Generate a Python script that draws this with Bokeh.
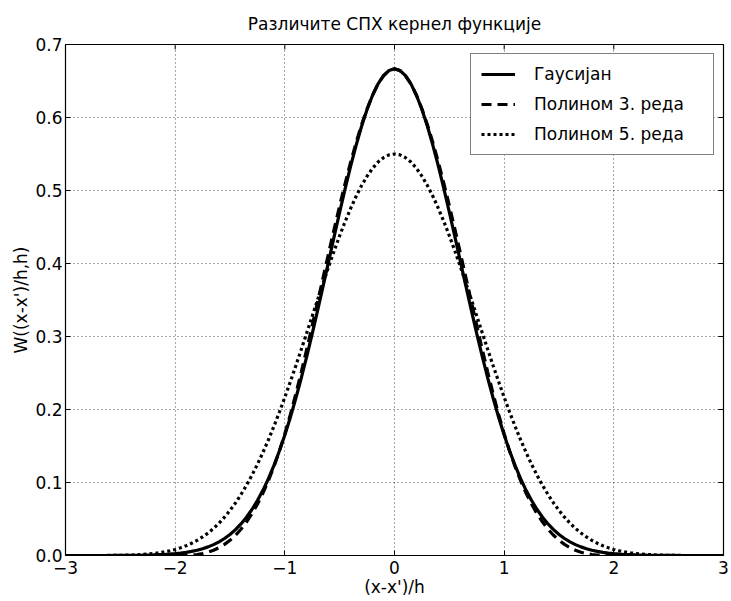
import math
from bokeh.plotting import figure
from bokeh.models import LinearAxis, Legend, LegendItem, FixedTicker
from bokeh.embed import file_html
from bokeh.resources import INLINE

# x from -3 to 3 in steps of 0.05
x = [round(-3 + 0.05 * i, 2) for i in range(121)]

# values for |x| = 0, 0.05, ..., 3.0 (curves are symmetric)
gauss_half = [0.6667, 0.6644, 0.6574, 0.6461, 0.6305, 0.6110, 0.5880, 0.5619, 0.5333, 0.5025,
              0.4702, 0.4371, 0.4033, 0.3696, 0.3364, 0.3040, 0.2728, 0.2432, 0.2152, 0.1891,
              0.1650, 0.1431, 0.1231, 0.1052, 0.0893, 0.0753, 0.0630, 0.0524, 0.0432, 0.0354,
              0.0288, 0.0233, 0.0187, 0.0149, 0.0118, 0.0093, 0.0072, 0.0056, 0.0043, 0.0033,
              0.0025, 0.0019, 0.0014, 0.0011, 0.0008, 0.0006, 0.0004, 0.0003, 0.0002, 0.0002,
              0.0001, 0.0001, 0.0, 0.0, 0.0, 0.0, 0.0, 0.0, 0.0, 0.0, 0.0]
cubic_half = [0.6667, 0.6642, 0.6572, 0.6459, 0.6307, 0.6120, 0.5902, 0.5656, 0.5387, 0.5097,
              0.4792, 0.4474, 0.4147, 0.3815, 0.3482, 0.3151, 0.2827, 0.2512, 0.2212, 0.1929,
              0.1667, 0.1429, 0.1215, 0.1024, 0.0853, 0.0703, 0.0572, 0.0458, 0.0360, 0.0277,
              0.0208, 0.0152, 0.0107, 0.0071, 0.0045, 0.0026, 0.0013, 0.0006, 0.0002, 0.0000,
              0.0, 0.0, 0.0, 0.0, 0.0, 0.0, 0.0, 0.0, 0.0, 0.0,
              0.0, 0.0, 0.0, 0.0, 0.0, 0.0, 0.0, 0.0, 0.0, 0.0, 0.0]
quintic_half = [0.5500, 0.5488, 0.5450, 0.5389, 0.5304, 0.5196, 0.5068, 0.4921, 0.4755, 0.4575,
                0.4380, 0.4174, 0.3959, 0.3737, 0.3510, 0.3281, 0.3051, 0.2823, 0.2598, 0.2379,
                0.2167, 0.1963, 0.1768, 0.1584, 0.1411, 0.1249, 0.1099, 0.0961, 0.0835, 0.0720,
                0.0617, 0.0525, 0.0443, 0.0371, 0.0308, 0.0254, 0.0207, 0.0168, 0.0134, 0.0106,
                0.0083, 0.0064, 0.0049, 0.0037, 0.0027, 0.0020, 0.0014, 0.0010, 0.0006, 0.0004,
                0.0003, 0.0002, 0.0001, 0.0, 0.0, 0.0, 0.0, 0.0, 0.0, 0.0, 0.0]

gauss = gauss_half[::-1] + gauss_half[1:]
cubic = cubic_half[::-1] + cubic_half[1:]
quintic = quintic_half[::-1] + quintic_half[1:]

x_ticks = [-3, -2, -1, 0, 1, 2, 3]
y_ticks = [0.0, 0.1, 0.2, 0.3, 0.4, 0.5, 0.6, 0.7]
labels = ["Гаусијан", "Полином 3. реда", "Полином 5. реда"]

FONT = "DejaVu Sans"
FS = "17px"
X_MIN, X_MAX, Y_MIN, Y_MAX = -3, 3, 0, 0.7

p = figure(width=731, height=601, x_range=(X_MIN, X_MAX), y_range=(Y_MIN, Y_MAX),
           output_backend="svg", toolbar_location=None,
           min_border_left=65, min_border_right=8, min_border_top=44, min_border_bottom=46,
           x_axis_location=None, y_axis_location=None)
p.outline_line_color = "black"
p.outline_line_width = 1.2
p.background_fill_color = "white"
p.border_fill_color = "white"

p.title.text = "Различите СПХ кернел функције"
p.title.align = "center"
p.title.text_font = FONT
p.title.text_font_style = "normal"
p.title.text_font_size = FS
p.title.text_color = "black"
p.title.standoff = 22

xax = LinearAxis(ticker=FixedTicker(ticks=x_ticks), axis_label="(x-x')/h")
yax = LinearAxis(ticker=FixedTicker(ticks=y_ticks), axis_label="W((x-x')/h,h)")
for ax in (xax, yax):
    ax.major_tick_in = 5
    ax.major_tick_out = 0
    ax.minor_tick_line_color = None
    ax.axis_line_color = None
    ax.major_label_text_font = FONT
    ax.major_label_text_font_size = FS
    ax.major_label_text_color = "black"
    ax.axis_label_text_font = FONT
    ax.axis_label_text_font_size = FS
    ax.axis_label_text_font_style = "normal"
    ax.axis_label_text_color = "black"
    ax.major_label_standoff = 3
    ax.axis_label_standoff = 1
xax.major_label_standoff = 5
xax.axis_label_standoff = 0
yax.major_label_overrides = {v: f"{v:.1f}" for v in y_ticks}
p.add_layout(xax, "below")
p.add_layout(yax, "left")

# inward tick marks on the top and right edges
p.ray(x=x_ticks, y=[Y_MAX] * len(x_ticks), length=5, length_units="screen",
      angle=-math.pi / 2, line_color="black", line_width=1)
p.ray(x=[X_MAX] * len(y_ticks), y=y_ticks, length=5, length_units="screen",
      angle=math.pi, line_color="black", line_width=1)

p.xgrid.ticker = FixedTicker(ticks=x_ticks)
p.ygrid.ticker = FixedTicker(ticks=y_ticks)
for g in (p.xgrid, p.ygrid):
    g.grid_line_color = "black"
    g.grid_line_dash = "1 3"
    g.grid_line_width = 1
    g.grid_line_alpha = 0.7

r1 = p.line(x, gauss, line_color="black", line_width=3.2)
r2 = p.line(x, cubic, line_color="black", line_width=3.2, line_dash="10 6")
r3 = p.line(x, quintic, line_color="black", line_width=3.2, line_dash="3 3")

legend = Legend(items=[LegendItem(label=labels[0], renderers=[r1]),
                       LegendItem(label=labels[1], renderers=[r2]),
                       LegendItem(label=labels[2], renderers=[r3])],
                location="top_right")
legend.border_line_color = "black"
legend.border_line_width = 1.2
legend.background_fill_alpha = 1
legend.label_text_font = FONT
legend.label_text_font_size = FS
legend.label_text_color = "black"
legend.glyph_width = 34
legend.glyph_height = 20
legend.label_standoff = 19
legend.label_width = 169
legend.label_height = 20
legend.spacing = 10
legend.padding = 10
legend.margin = 9
p.add_layout(legend, "center")

open("out.html", "w").write(file_html(p, INLINE))
